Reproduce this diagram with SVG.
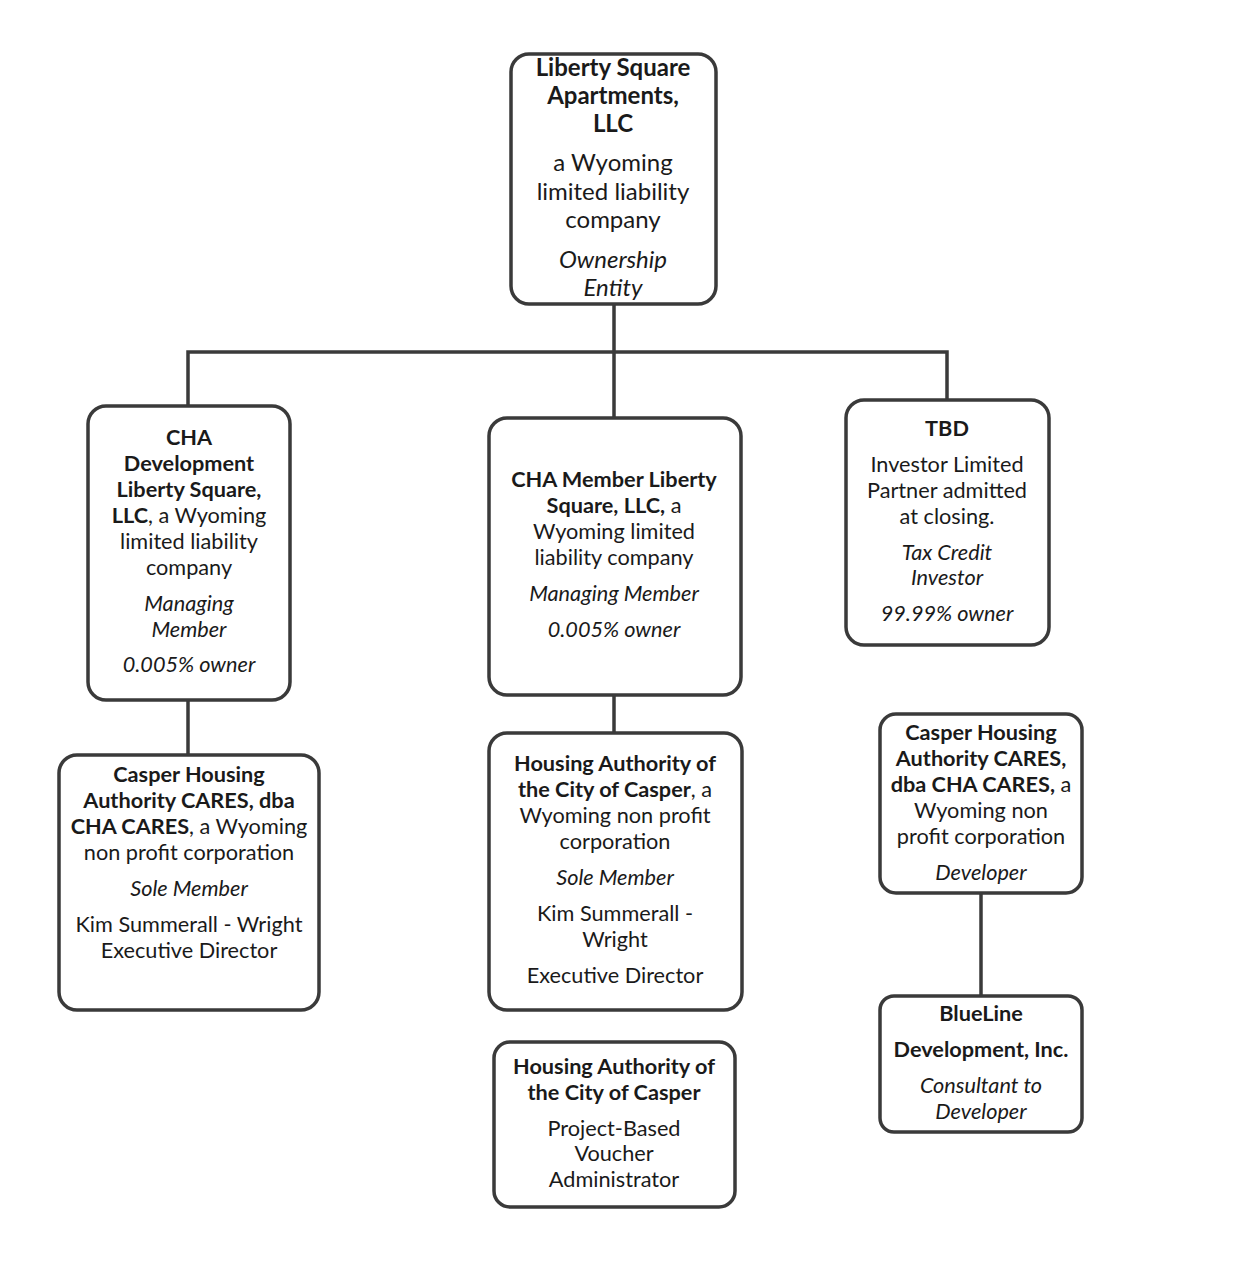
<svg xmlns="http://www.w3.org/2000/svg" width="1236" height="1268" viewBox="0 0 1236 1268">
<style>
.box{fill:#fff;stroke:#3a3a3a;stroke-width:3.5}
.ln{fill:none;stroke:#3a3a3a;stroke-width:3.5}
text{font-family:Lato,"Open Sans","Liberation Sans",sans-serif;font-size:21.7px;fill:#1a1a1a;text-anchor:middle}
.b{font-weight:bold}
.i{font-style:italic}
.t{font-size:24px}
</style>
<rect width="1236" height="1268" fill="#fff"/>
<g id="connectors">
<path class="ln" d="M614,304 V352 M188,406 V352 H947 V400 M614,352 V418"/>
<path class="ln" d="M188,700 V755"/>
<path class="ln" d="M614,695 V733"/>
<path class="ln" d="M981,893 V996"/>
</g>
<g id="n-liberty">
<rect class="box" x="511" y="54" width="205" height="250" rx="18"/>
<text class="b t" x="613" y="76">Liberty Square</text>
<text class="b t" x="613" y="104">Apartments,</text>
<text class="b t" x="613" y="132">LLC</text>
<text class="t" x="613" y="171">a Wyoming</text>
<text class="t" x="613" y="200">limited liability</text>
<text class="t" x="613" y="228">company</text>
<text class="i t" x="613" y="268">Ownership</text>
<text class="i t" x="613" y="296">Entity</text>
</g>
<g id="n-chadev">
<rect class="box" x="88" y="406" width="202" height="294" rx="18"/>
<text class="b" x="189" y="445">CHA</text>
<text class="b" x="189" y="471">Development</text>
<text class="b" x="189" y="497">Liberty Square,</text>
<text x="189" y="523"><tspan class="b">LLC</tspan>, a Wyoming</text>
<text x="189" y="549">limited liability</text>
<text x="189" y="575">company</text>
<text class="i" x="189" y="611">Managing</text>
<text class="i" x="189" y="637">Member</text>
<text class="i" x="189" y="672">0.005% owner</text>
</g>
<g id="n-chamember">
<rect class="box" x="489" y="418" width="252" height="277" rx="18"/>
<text class="b" x="614" y="487">CHA Member Liberty</text>
<text x="614" y="513"><tspan class="b">Square, LLC,</tspan> a</text>
<text x="614" y="539">Wyoming limited</text>
<text x="614" y="565">liability company</text>
<text class="i" x="614" y="601">Managing Member</text>
<text class="i" x="614" y="637">0.005% owner</text>
</g>
<g id="n-tbd">
<rect class="box" x="846" y="400" width="203" height="245" rx="18"/>
<text class="b" x="947" y="436">TBD</text>
<text x="947" y="472">Investor Limited</text>
<text x="947" y="498">Partner admitted</text>
<text x="947" y="524">at closing.</text>
<text class="i" x="947" y="560">Tax Credit</text>
<text class="i" x="947" y="585">Investor</text>
<text class="i" x="947" y="621">99.99% owner</text>
</g>
<g id="n-cares-left">
<rect class="box" x="59" y="755" width="260" height="255" rx="18"/>
<text class="b" x="189" y="782">Casper Housing</text>
<text class="b" x="189" y="808">Authority CARES, dba</text>
<text x="189" y="834"><tspan class="b">CHA CARES</tspan>, a Wyoming</text>
<text x="189" y="860">non profit corporation</text>
<text class="i" x="189" y="896">Sole Member</text>
<text x="189" y="932">Kim Summerall - Wright</text>
<text x="189" y="958">Executive Director</text>
</g>
<g id="n-hacc">
<rect class="box" x="489" y="733" width="253" height="277" rx="18"/>
<text class="b" x="615" y="771">Housing Authority of</text>
<text x="615" y="797"><tspan class="b">the City of Casper</tspan>, a</text>
<text x="615" y="823">Wyoming non profit</text>
<text x="615" y="849">corporation</text>
<text class="i" x="615" y="885">Sole Member</text>
<text x="615" y="921">Kim Summerall -</text>
<text x="615" y="947">Wright</text>
<text x="615" y="983">Executive Director</text>
</g>
<g id="n-hacc-pbv">
<rect class="box" x="494" y="1042" width="241" height="165" rx="16"/>
<text class="b" x="614" y="1074">Housing Authority of</text>
<text class="b" x="614" y="1100">the City of Casper</text>
<text x="614" y="1136">Project-Based</text>
<text x="614" y="1161">Voucher</text>
<text x="614" y="1187">Administrator</text>
</g>
<g id="n-cares-right">
<rect class="box" x="880" y="714" width="202" height="179" rx="16"/>
<text class="b" x="981" y="740">Casper Housing</text>
<text class="b" x="981" y="766">Authority CARES,</text>
<text x="981" y="792"><tspan class="b">dba CHA CARES,</tspan> a</text>
<text x="981" y="818">Wyoming non</text>
<text x="981" y="844">profit corporation</text>
<text class="i" x="981" y="880">Developer</text>
</g>
<g id="n-blueline">
<rect class="box" x="880" y="996" width="202" height="136" rx="14"/>
<text class="b" x="981" y="1021">BlueLine</text>
<text class="b" x="981" y="1057">Development, Inc.</text>
<text class="i" x="981" y="1093">Consultant to</text>
<text class="i" x="981" y="1119">Developer</text>
</g>
</svg>
